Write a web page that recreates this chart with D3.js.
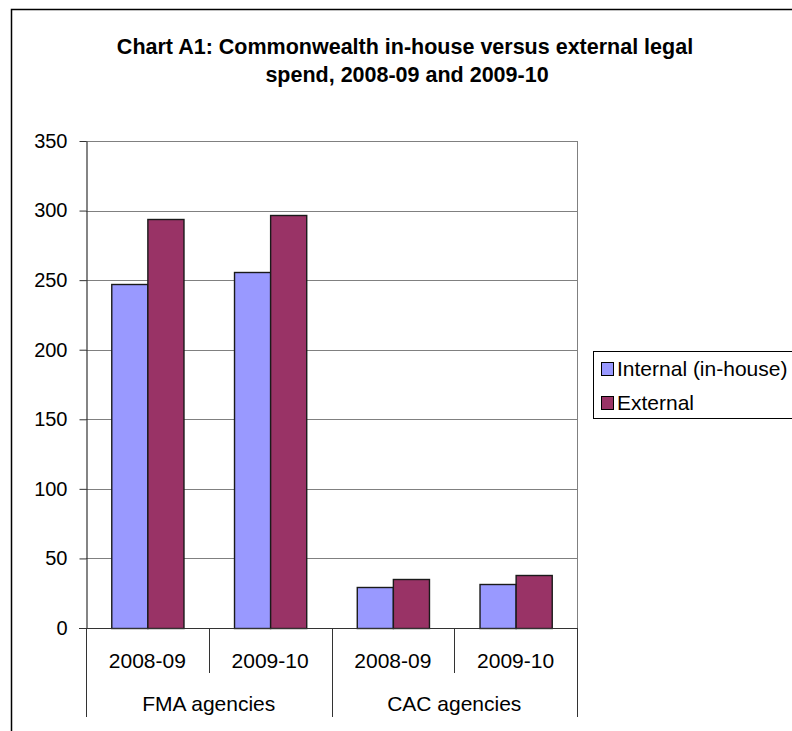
<!DOCTYPE html>
<html>
<head>
<meta charset="utf-8">
<script src="https://d3js.org/d3.v7.min.js"></script>
<style>
  body { margin: 0; background: #ffffff; }
  svg { display: block; font-family: "Liberation Sans", Arial, sans-serif; }
</style>
</head>
<body>
<div id="chart"></div>
<script>
// data
const years = ["2008-09", "2009-10", "2008-09", "2009-10"];
const groups = ["FMA agencies", "CAC agencies"];
const seriesNames = ["Internal (in-house)", "External"];
const internalSpend = [247, 256, 29.5, 31.5];
const externalSpend = [294, 297, 35.5, 38];
const yTicks = [0, 50, 100, 150, 200, 250, 300, 350];

const colors = ["#9999ff", "#993366"];

const width = 792, height = 731;
const plot = { left: 86, right: 577, top: 141, bottom: 628 };

const svg = d3.select("#chart").append("svg")
  .attr("width", width)
  .attr("height", height);

// chart frame (cut off on right and bottom)
svg.append("rect")
  .attr("x", 11.5).attr("y", 9.5)
  .attr("width", 900).attr("height", 900)
  .attr("fill", "#fff")
  .attr("stroke", "#000").attr("stroke-width", 1.5);

// title, centred on the whole chart area (which runs past the window)
const title = svg.append("text")
  .attr("text-anchor", "middle")
  .attr("font-weight", "bold")
  .attr("font-size", 21.5)
  .attr("fill", "#000");
title.append("tspan").attr("x", 405).attr("y", 54)
  .text("Chart A1: Commonwealth in-house versus external legal");
title.append("tspan").attr("x", 407).attr("y", 82)
  .text("spend, 2008-09 and 2009-10");

const y = d3.scaleLinear().domain([0, 350]).range([plot.bottom, plot.top]);
const x0 = d3.scaleBand().domain(d3.range(years.length))
  .range([plot.left, plot.right]).paddingInner(0).paddingOuter(0);
const bw = x0.bandwidth();
const x1 = d3.scaleBand().domain([0, 1]).range([0, bw]).paddingInner(0).paddingOuter(0.7);

// gridlines
svg.append("g").selectAll("line")
  .data(yTicks.filter(d => d > 0))
  .join("line")
  .attr("x1", plot.left).attr("x2", plot.right)
  .attr("y1", d => Math.round(y(d)) + 0.5).attr("y2", d => Math.round(y(d)) + 0.5)
  .attr("stroke", "#808080").attr("stroke-width", 1);

// right border of plot area
svg.append("line")
  .attr("x1", plot.right + 0.5).attr("x2", plot.right + 0.5)
  .attr("y1", plot.top).attr("y2", plot.bottom)
  .attr("stroke", "#808080");

// bars
const rows = years.map((yr, i) => [internalSpend[i], externalSpend[i]]);
const barG = svg.append("g").selectAll("g")
  .data(rows)
  .join("g")
  .attr("transform", (d, i) => `translate(${x0(i)},0)`);
barG.selectAll("rect")
  .data(d => d.map((v, k) => ({ v, k })))
  .join("rect")
  .attr("x", d => x1(d.k) + 0.5)
  .attr("width", x1.bandwidth())
  .attr("y", d => Math.round(y(d.v)) + 0.5)
  .attr("height", d => Math.round(y(0)) - Math.round(y(d.v)))
  .attr("fill", d => colors[d.k])
  .attr("stroke", "#1a1a1a").attr("stroke-width", 1.4);

// y axis
const yAxis = svg.append("g")
  .attr("transform", `translate(${plot.left + 0.5},0)`)
  .call(d3.axisLeft(y).tickValues(yTicks).tickSize(7).tickPadding(12).tickSizeOuter(0));
yAxis.select(".domain").attr("stroke", "#333").attr("stroke-width", 1.2);
yAxis.selectAll(".tick line").attr("stroke", "#333");
yAxis.selectAll(".tick text")
  .attr("font-size", 20).attr("fill", "#000")
  .attr("font-family", "Liberation Sans, Arial, sans-serif");

// x axis baseline
svg.append("line")
  .attr("x1", plot.left - 7).attr("x2", plot.right)
  .attr("y1", Math.round(y(0)) + 0.5).attr("y2", Math.round(y(0)) + 0.5)
  .attr("stroke", "#333").attr("stroke-width", 1.2);

// multi-level category separators
const innerSep = [1, 3].map(i => x0(i));
const outerSep = [0, 2, 4].map(i => i < years.length ? x0(i) : plot.right);
svg.append("g").selectAll("line")
  .data(innerSep)
  .join("line")
  .attr("x1", d => Math.round(d) + 0.5).attr("x2", d => Math.round(d) + 0.5)
  .attr("y1", plot.bottom).attr("y2", 673)
  .attr("stroke", "#333");
svg.append("g").selectAll("line")
  .data(outerSep)
  .join("line")
  .attr("x1", d => Math.round(d) + 0.5).attr("x2", d => Math.round(d) + 0.5)
  .attr("y1", plot.bottom).attr("y2", 717)
  .attr("stroke", "#333");

// year labels
svg.append("g").selectAll("text")
  .data(years)
  .join("text")
  .attr("x", (d, i) => x0(i) + bw / 2)
  .attr("y", 668)
  .attr("text-anchor", "middle")
  .attr("font-size", 21)
  .text(d => d);

// group labels
svg.append("g").selectAll("text")
  .data(groups)
  .join("text")
  .attr("x", (d, i) => x0(i * 2) + bw)
  .attr("y", 711)
  .attr("text-anchor", "middle")
  .attr("font-size", 21)
  .text(d => d);

// legend
const legend = svg.append("g");
legend.append("rect")
  .attr("x", 593.5).attr("y", 351.5)
  .attr("width", 300).attr("height", 67)
  .attr("fill", "#fff").attr("stroke", "#000");
const li = legend.selectAll("g.item")
  .data(seriesNames)
  .join("g")
  .attr("class", "item")
  .attr("transform", (d, i) => `translate(601,${362 + i * 34})`);
li.append("rect")
  .attr("x", 0.5).attr("y", 0.5)
  .attr("width", 12).attr("height", 13)
  .attr("fill", (d, i) => colors[i])
  .attr("stroke", "#000");
li.append("text")
  .attr("x", 16).attr("y", 14)
  .attr("font-size", 21)
  .text(d => d);
</script>
</body>
</html>
